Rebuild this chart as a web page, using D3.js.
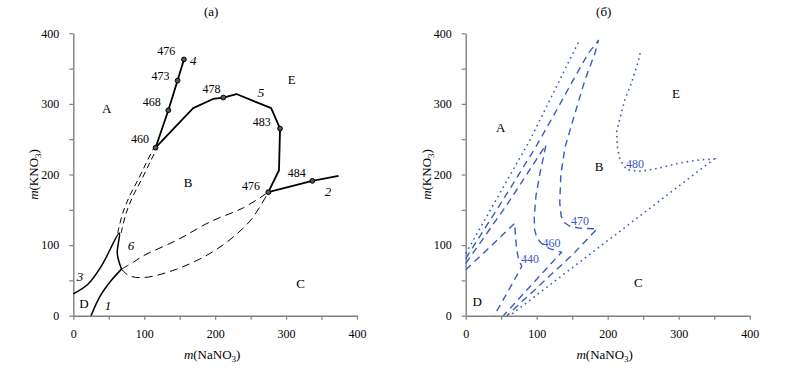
<!DOCTYPE html>
<html>
<head>
<meta charset="utf-8">
<script src="https://cdn.jsdelivr.net/npm/d3@7"></script>
<style>
  body { margin: 0; background: #fff; }
  svg text { font-family: "Liberation Serif", "Times New Roman", serif; }
</style>
</head>
<body>
<script>
// ---- data: panel (a), [NaNO3, KNO3] ----
const curve4 = [[116, 238], [134, 291], [147, 333], [156, 363]];
const curve4Dots = [[116, 238], [134, 291], [147, 333], [156, 363]];
const curve5 = [[116, 238], [169, 294], [197, 307], [211.5, 309], [230, 314], [279, 294], [291.5, 265], [290, 206], [275, 175]];
const curve5Dots = [[211.5, 309], [291.5, 265], [275, 175]];
const curve2 = [[275, 175], [337, 191], [374, 198]];
const curve2Dots = [[337, 191]];
const curve3 = [[0, 31], [21, 45], [40, 71], [65, 117], [62, 88], [68, 66]];
const curve1 = [[25, 0], [38, 28], [54, 50.5], [68, 66]];
const curve6 = [[65, 117], [72, 145], [82, 170], [95, 195], [106, 218], [116, 238]];
const loopUpper = [[68, 66], [85, 76], [99, 85], [146, 107], [193, 133], [240, 153], [275, 175]];
const loopLower = [[68, 66], [78, 57], [99, 54], [146, 66], [202, 94], [249, 134], [275, 175]];

const tempLabelsA = [
  ["476", 131, 375], ["473", 123, 340], ["468", 110.5, 302], ["460", 94, 250],
  ["478", 195, 321], ["483", 265.6, 275], ["476", 250.5, 184], ["484", 315, 202.5]
];
const curveNamesA = [["4", 169, 362], ["5", 264.6, 316], ["2", 359, 175.6], ["1", 49, 15], ["3", 9.4, 55], ["6", 81.3, 99]];
const regionsA = [["A", 47, 294], ["B", 162, 189], ["C", 320.6, 46], ["D", 15, 16.6], ["E", 308, 334]];

// ---- data: panel (б) isotherms ----
const iso480Left = [[0, 88], [90.6, 249], [158.6, 387]];
const iso480Right = [[245.7, 372], [243, 360], [233.5, 329.6], [224, 305.7], [217.3, 279.8], [212.7, 261],
  [213.5, 239.8], [217.3, 221], [226.8, 206.8], [245.5, 204.4], [273.7, 209.3], [301.8, 216.4],
  [330, 220.8], [350, 222], [62, 0]];
const iso470 = [[0, 81], [50, 160], [97.6, 237], [128, 291], [151.5, 334], [172.7, 371.7], [187, 390],
  [182, 371.7], [168, 334], [154, 287], [140, 239], [134, 200], [132.5, 160], [134.5, 141], [139, 132],
  [146, 127], [160, 124], [185, 123], [150, 86], [58, 0]];
const iso460 = [[0, 74], [60, 160], [113, 242], [109, 222], [104.6, 201.7], [99, 170], [96.5, 140],
  [97, 122], [100, 111], [106, 103], [118, 95], [135, 90], [53, 0]];
const iso440 = [[0, 65], [35, 98], [69, 131], [70, 115], [71.8, 93], [75, 78], [79, 70], [60, 35], [40, 0]];

const tempLabelsB = [["480", 238.5, 215], ["470", 161, 134], ["460", 121, 103.4], ["440", 90.6, 80]];
const regionsB = [["A", 49.3, 267], ["B", 188, 211], ["C", 243, 46.7], ["D", 16.3, 19.8], ["E", 296, 315]];

const tickValues = d3.range(0, 401, 50);

// ---- layout ----
const W = 789, H = 372;
const blue = "#3b5bbd";

const svg = d3.select("body").append("svg")
    .attr("width", W)
    .attr("height", H);

const y = d3.scaleLinear().domain([0, 400]).range([315.7, 33.3]);
const xA = d3.scaleLinear().domain([0, 400]).range([73.3, 357]);
const xB = d3.scaleLinear().domain([0, 400]).range([465.7, 749.7]);

function drawAxes(x, title) {
    const g = svg.append("g");
    const xAxis = d3.axisBottom(x)
        .tickValues(tickValues)
        .tickFormat(d => d % 100 === 0 ? d : "")
        .tickSize(4).tickSizeOuter(0).tickPadding(10);
    const yAxis = d3.axisLeft(y)
        .tickValues(tickValues)
        .tickFormat(d => d % 100 === 0 ? d : "")
        .tickSize(4).tickSizeOuter(0).tickPadding(10);

    g.append("g").attr("transform", `translate(0,${y(0)})`).call(xAxis);
    g.append("g").attr("transform", `translate(${x(0)},0)`).call(yAxis);
    g.selectAll(".domain").attr("stroke", "#808080").attr("stroke-width", 1.4);
    g.selectAll(".tick line").attr("stroke", "#808080").attr("stroke-width", 1.2);
    g.selectAll(".tick text")
        .style("font-family", "Liberation Serif, serif")
        .style("font-size", "12px")
        .attr("fill", "#000");

    // x title m(NaNO3)
    const xt = g.append("text")
        .attr("x", (x(0) + x(400)) / 2 - 3)
        .attr("y", 359)
        .attr("text-anchor", "middle")
        .style("font-size", "13px");
    xt.append("tspan").style("font-style", "italic").text("m");
    xt.append("tspan").text("(NaNO");
    xt.append("tspan").attr("dy", 3).style("font-size", "9px").text("3");
    xt.append("tspan").attr("dy", -3).text(")");

    // y title m(KNO3)
    const yt = g.append("text")
        .attr("transform", `translate(${x(0) - 35},${(y(0) + y(400)) / 2}) rotate(-90)`)
        .attr("text-anchor", "middle")
        .style("font-size", "13px");
    yt.append("tspan").style("font-style", "italic").text("m");
    yt.append("tspan").text("(KNO");
    yt.append("tspan").attr("dy", 3).style("font-size", "9px").text("3");
    yt.append("tspan").attr("dy", -3).text(")");

    g.append("text")
        .attr("x", (x(0) + x(400)) / 2 - 4)
        .attr("y", 16)
        .attr("text-anchor", "middle")
        .style("font-size", "13px")
        .text(title);
}

drawAxes(xA, "(a)");
drawAxes(xB, "(б)");

// ---- panel (a) ----
const lineA = d3.line().x(d => xA(d[0])).y(d => y(d[1]));
const smoothA = d3.line().x(d => xA(d[0])).y(d => y(d[1])).curve(d3.curveCatmullRom);

const gA = svg.append("g");
[curve4, curve5, curve2].forEach(c => {
    gA.append("path").attr("d", lineA(c))
        .attr("fill", "none").attr("stroke", "#000").attr("stroke-width", 1.8)
        .attr("stroke-linejoin", "round");
});
[curve3, curve1].forEach(c => {
    gA.append("path").attr("d", smoothA(c))
        .attr("fill", "none").attr("stroke", "#000").attr("stroke-width", 1.5);
});
[loopUpper, loopLower].forEach(c => {
    gA.append("path").attr("d", smoothA(c))
        .attr("fill", "none").attr("stroke", "#000").attr("stroke-width", 1)
        .attr("stroke-dasharray", "8,5");
});
[-1.7, 1.7].forEach(dx => {
    gA.append("path").attr("d", smoothA(curve6))
        .attr("transform", `translate(${dx},0)`)
        .attr("fill", "none").attr("stroke", "#000").attr("stroke-width", 1)
        .attr("stroke-dasharray", "6,4");
});

gA.selectAll("circle.pt")
    .data(curve4Dots.concat(curve5Dots, curve2Dots))
    .enter().append("circle")
    .attr("class", "pt")
    .attr("cx", d => xA(d[0])).attr("cy", d => y(d[1]))
    .attr("r", 2.4)
    .attr("fill", "#555").attr("stroke", "#000").attr("stroke-width", 1);

gA.selectAll("text.temp")
    .data(tempLabelsA)
    .enter().append("text")
    .attr("class", "temp")
    .attr("x", d => xA(d[1])).attr("y", d => y(d[2]))
    .attr("text-anchor", "middle").attr("dominant-baseline", "central")
    .style("font-size", "12px")
    .text(d => d[0]);

gA.selectAll("text.cname")
    .data(curveNamesA)
    .enter().append("text")
    .attr("class", "cname")
    .attr("x", d => xA(d[1])).attr("y", d => y(d[2]))
    .attr("text-anchor", "middle").attr("dominant-baseline", "central")
    .style("font-size", "13px").style("font-style", "italic")
    .text(d => d[0]);

gA.selectAll("text.region")
    .data(regionsA)
    .enter().append("text")
    .attr("class", "region")
    .attr("x", d => xA(d[1])).attr("y", d => y(d[2]))
    .attr("text-anchor", "middle").attr("dominant-baseline", "central")
    .style("font-size", "13px")
    .text(d => d[0]);

// ---- panel (б) ----
const lineB = d3.line().x(d => xB(d[0])).y(d => y(d[1]));
const gB = svg.append("g");

[iso480Left, iso480Right].forEach(c => {
    gB.append("path").attr("d", lineB(c))
        .attr("fill", "none").attr("stroke", blue).attr("stroke-width", 1.6)
        .attr("stroke-dasharray", "1.6,3.8");
});
[iso470, iso460, iso440].forEach(c => {
    gB.append("path").attr("d", lineB(c))
        .attr("fill", "none").attr("stroke", blue).attr("stroke-width", 1.4)
        .attr("stroke-dasharray", "7,5").attr("stroke-linejoin", "round");
});

gB.selectAll("text.temp")
    .data(tempLabelsB)
    .enter().append("text")
    .attr("class", "temp")
    .attr("x", d => xB(d[1])).attr("y", d => y(d[2]))
    .attr("text-anchor", "middle").attr("dominant-baseline", "central")
    .attr("fill", blue)
    .style("font-size", "12px")
    .text(d => d[0]);

gB.selectAll("text.region")
    .data(regionsB)
    .enter().append("text")
    .attr("class", "region")
    .attr("x", d => xB(d[1])).attr("y", d => y(d[2]))
    .attr("text-anchor", "middle").attr("dominant-baseline", "central")
    .style("font-size", "13px")
    .text(d => d[0]);
</script>
</body>
</html>
